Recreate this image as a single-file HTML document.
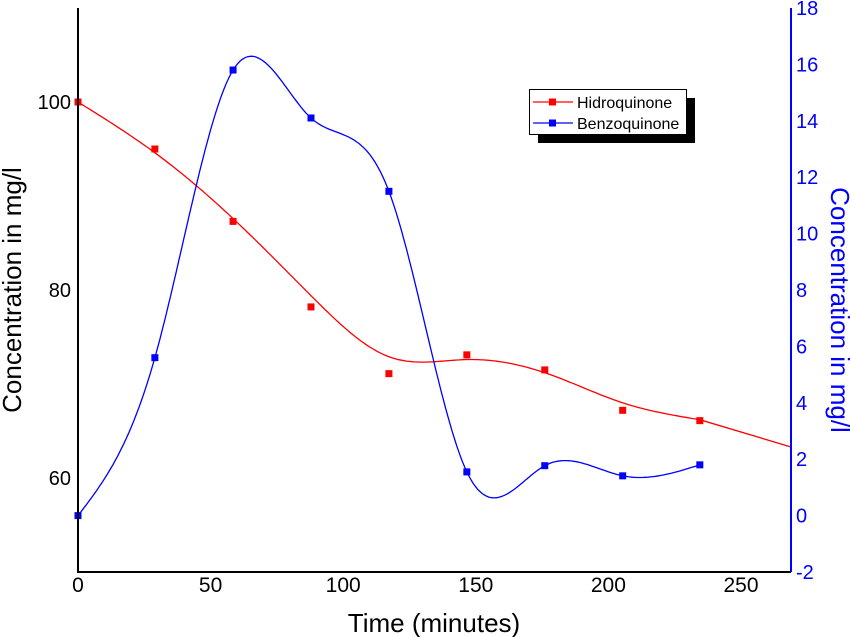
<!DOCTYPE html>
<html><head><meta charset="utf-8"><style>
body{margin:0;background:#fff;}
svg{display:block;font-family:"Liberation Sans",sans-serif;}
</style></head><body>
<svg id="c" width="850" height="637"></svg>
<script>
const times=[0,29,58.5,87.9,117.3,146.7,176.1,205.5,234.6];
const hydro=[100,95.0,87.3,78.2,71.1,73.1,71.5,67.2,66.1];
const hydroFit=[100,94.6,87.6,79.4,72.9,72.6,71.2,68.0,66.2];
const hydroEnd=[269,63.3];
const benzo=[0,5.6,15.8,14.1,11.5,1.55,1.77,1.41,1.8];
const xTicks=[0,50,100,150,200,250];
const yLTicks=[60,80,100];
const yRTicks=[-2,0,2,4,6,8,10,12,14,16,18];
const L=78,R=791,T=8,B=572;
const xs=v=>L+v*(R-L)/269;
const yl=v=>B-(v-50)*(B-T)/60;
const yr=v=>B-(v+2)*(B-T)/20;
const NS="http://www.w3.org/2000/svg";
const svg=document.getElementById('c');
function mk(t,a,p){const e=document.createElementNS(NS,t);for(const k in a)e.setAttribute(k,a[k]);(p||svg).appendChild(e);return e;}
function spline(x,y){const n=x.length,h=[],al=[],l=[1],mu=[0],z=[0],c=new Array(n).fill(0),b=[],d=[];
for(let i=0;i<n-1;i++)h.push(x[i+1]-x[i]);
for(let i=1;i<n-1;i++)al[i]=3/h[i]*(y[i+1]-y[i])-3/h[i-1]*(y[i]-y[i-1]);
for(let i=1;i<n-1;i++){l[i]=2*(x[i+1]-x[i-1])-h[i-1]*mu[i-1];mu[i]=h[i]/l[i];z[i]=(al[i]-h[i-1]*z[i-1])/l[i];}
for(let j=n-2;j>=0;j--){c[j]=(j>0?z[j]:0)-mu[j]*c[j+1];b[j]=(y[j+1]-y[j])/h[j]-h[j]*(c[j+1]+2*c[j])/3;d[j]=(c[j+1]-c[j])/(3*h[j]);}
return t=>{let i=0;while(i<n-2&&t>x[i+1])i++;const dx=t-x[i];return y[i]+b[i]*dx+c[i]*dx*dx+d[i]*dx*dx*dx;};}
function curve(x,y,fy,sy,col,name,ext){const f=spline(x,fy);let d='';const x0=x[0],x1=x[x.length-1];
for(let t=x0;t<=x1+0.001;t+=1){d+=(d?'L':'M')+xs(t).toFixed(1)+','+sy(f(t)).toFixed(1);}
d+='L'+xs(x1).toFixed(1)+','+sy(fy[fy.length-1]).toFixed(1);
if(ext)d+='L'+xs(ext[0])+','+sy(ext[1]);
const p=mk('path',{d:d,fill:'none',stroke:col,'stroke-width':1.3});

x.forEach((v,i)=>{const r=mk('rect',{x:xs(v)-3.5,y:sy(y[i])-3.5,width:7,height:7,fill:col});
});}
curve(times,hydro,hydroFit,yl,'#f00','hydroquinone',hydroEnd);
curve(times,benzo,benzo,yr,'#00f','benzoquinone',null);
let a=mk('line',{x1:L,y1:T,x2:L,y2:B+1,stroke:'#000','stroke-width':2});
a=mk('line',{x1:L,y1:B,x2:R,y2:B,stroke:'#000','stroke-width':2});
a=mk('line',{x1:R,y1:T,x2:R,y2:B,stroke:'#00f','stroke-width':2});
const xa=v=>78+v*2.652;
xTicks.forEach(v=>{const t=mk('text',{x:xa(v),y:B+20,'text-anchor':'middle','font-size':21});t.textContent=v;});
yLTicks.forEach(v=>{const t=mk('text',{x:L-7,y:yl(v)+7,'text-anchor':'end','font-size':20});t.textContent=v;});
yRTicks.forEach(v=>{const t=mk('text',{x:R+5,y:yr(v)+7,'font-size':20,fill:'#00f'});t.textContent=v;});
let t=mk('text',{x:434,y:632,'text-anchor':'middle','font-size':26});t.textContent='Time (minutes)';
t=mk('text',{x:0,y:0,'text-anchor':'middle','font-size':26,transform:'translate(21,290) rotate(-90)'});t.textContent='Concentration in mg/l';
t=mk('text',{x:0,y:0,'text-anchor':'middle','font-size':26,fill:'#00f',transform:'translate(831,310) rotate(90)'});t.textContent='Concentration in mg/l';
const g=mk('g',{});
mk('rect',{x:538,y:98,width:157,height:45,fill:'#000'},g);
mk('rect',{x:529.5,y:89.5,width:157,height:45,fill:'#fff',stroke:'#000','stroke-width':1},g);
[['Hidroquinone','#f00',102],['Benzoquinone','#00f',123]].forEach(([n,c,y])=>{
const e=mk('g',{},g);
mk('line',{x1:533,y1:y,x2:573,y2:y,stroke:c,'stroke-width':1.3},e);mk('rect',{x:549,y:y-3.5,width:7,height:7,fill:c},e);
const tx=mk('text',{x:577,y:y+6,'font-size':16},e);tx.textContent=n;});
</script>
</body></html>
